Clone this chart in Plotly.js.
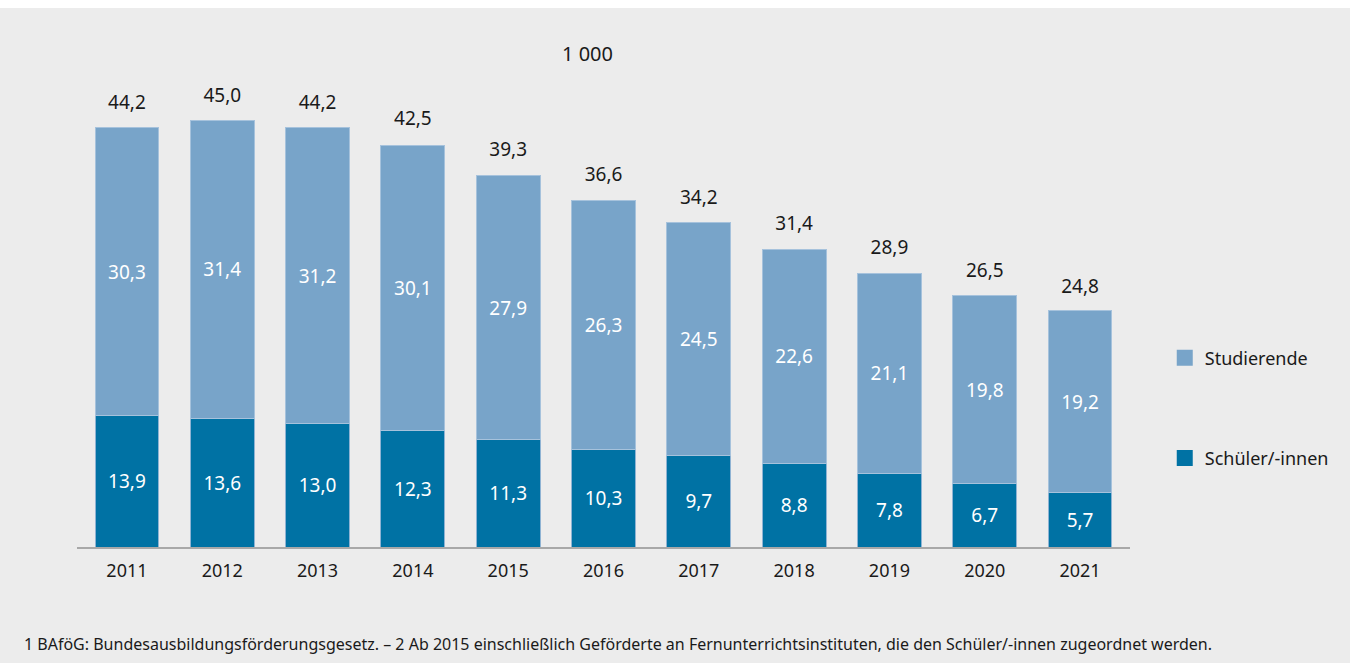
<!DOCTYPE html>
<html>
<head>
<meta charset="utf-8">
<script src="https://cdn.plot.ly/plotly-3.0.1.min.js"></script>
<style>
  html, body { margin: 0; padding: 0; background: #ffffff; }
  #myPlot { position: absolute; top: 8px; left: 0; width: 1350px; height: 655px; }
</style>
</head>
<body>
<div id="myPlot"></div>
<script>
// Data (in 1 000)
const years = ['2011', '2012', '2013', '2014', '2015', '2016', '2017', '2018', '2019', '2020', '2021'];
const schueler = [13.9, 13.6, 13.0, 12.3, 11.3, 10.3, 9.7, 8.8, 7.8, 6.7, 5.7];
const studierende = [30.3, 31.4, 31.2, 30.1, 27.9, 26.3, 24.5, 22.6, 21.1, 19.8, 19.2];
const totals = [44.2, 45.0, 44.2, 42.5, 39.3, 36.6, 34.2, 31.4, 28.9, 26.5, 24.8];

const lightBlue = '#78a4c9';
const darkBlue = '#0072a4';
const fontFam = '"Noto Sans", "Open Sans", sans-serif';
const textCol = '#1a1a1a';

const fmt = v => v.toFixed(1).replace('.', ',');

const data = [
  {
    x: years, y: schueler, type: 'bar', name: 'Schüler/-innen',
    marker: {color: darkBlue, line: {color: '#8fb3d3', width: 1}},
    text: schueler.map(fmt), textposition: 'inside', insidetextanchor: 'middle',
    textfont: {color: '#ffffff', size: 19, family: fontFam},
    showlegend: false, hoverinfo: 'skip'
  },
  {
    x: years, y: studierende, type: 'bar', name: 'Studierende',
    marker: {color: lightBlue, line: {color: '#a6c2dc', width: 1}},
    text: studierende.map(fmt), textposition: 'inside', insidetextanchor: 'middle',
    textfont: {color: '#ffffff', size: 19, family: fontFam},
    showlegend: false, hoverinfo: 'skip'
  },
  // totals above the bars (invisible marker just pushes the text up)
  {
    x: years, y: totals, type: 'scatter', mode: 'markers+text',
    marker: {size: 21, color: 'rgba(0,0,0,0)'},
    text: totals.map(fmt), textposition: 'top center',
    textfont: {size: 19, color: textCol, family: fontFam},
    showlegend: false, hoverinfo: 'skip', cliponaxis: false
  },
  // legend entries with bigger squares
  {
    x: [null], y: [null], type: 'scatter', mode: 'markers', name: 'Studierende',
    marker: {symbol: 'square', size: 17, color: lightBlue}, legendgroup: 'a'
  },
  {
    x: [null], y: [null], type: 'scatter', mode: 'markers', name: 'Schüler/-innen',
    marker: {symbol: 'square', size: 17, color: darkBlue}, legendgroup: 'b'
  }
];

const annotations = [
  {
    xref: 'paper', yref: 'paper', x: 0.485, y: 1.105,
    text: '1 000', showarrow: false, xanchor: 'center', yanchor: 'middle',
    font: {size: 20, color: textCol, family: fontFam}
  },
  {
    xref: 'paper', yref: 'paper', x: -0.0522, y: -0.217,
    text: '1 BAföG: Bundesausbildungsförderungsgesetz. – 2 Ab 2015 einschließlich Geförderte an Fernunterrichtsinstituten, die den Schüler/-innen zugeordnet werden.',
    showarrow: false, xanchor: 'left', yanchor: 'middle',
    font: {size: 16, color: textCol, family: fontFam}
  }
];

const layout = {
  margin: {l: 77, r: 220, t: 92, b: 116},
  barmode: 'stack',
  bargap: 0.33,
  font: {family: fontFam, color: textCol},
  xaxis: {
    type: 'category',
    range: [-0.524, 10.524],
    showgrid: false, zeroline: false,
    showline: true, linecolor: '#a8a8a8', linewidth: 2,
    ticks: 'outside', ticklen: 6, tickcolor: 'rgba(0,0,0,0)',
    tickfont: {size: 18, color: textCol, family: fontFam}
  },
  yaxis: {
    range: [0, 47.15],
    visible: false, showgrid: false, zeroline: false
  },
  legend: {
    x: 1.033, y: 0.311, xanchor: 'left', yanchor: 'middle',
    traceorder: 'grouped', tracegroupgap: 74,
    bgcolor: 'rgba(0,0,0,0)',
    font: {size: 18, color: textCol, family: fontFam}
  },
  annotations: annotations,
  paper_bgcolor: '#ececec',
  plot_bgcolor: '#ececec'
};

Plotly.newPlot('myPlot', data, layout, {displayModeBar: false});
</script>
</body>
</html>
